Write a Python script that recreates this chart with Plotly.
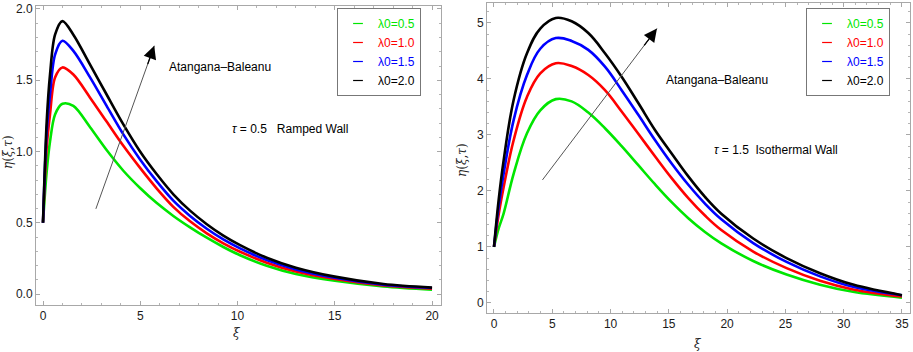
import plotly.graph_objects as go

# ---------------- data ----------------
labels = ["λ0=0.5", "λ0=1.0", "λ0=1.5", "λ0=2.0"]
colors = ["#00e600", "#ff0000", "#0000ff", "#000000"]

# Left panel: tau = 0.5, ramped wall
xi_left = [0, 0.19, 0.36, 0.62, 1.0, 1.56, 2.42, 3.27, 4.13, 4.99, 5.85, 6.7, 7.56, 8.42, 9.27, 10.13, 11.5, 13, 15, 17.5, 20]
eta_left_05 = [0.5, 0.86, 1.07, 1.26, 1.335, 1.32, 1.17, 1.01, 0.865, 0.744, 0.638, 0.548, 0.468, 0.395, 0.33, 0.272, 0.198, 0.14, 0.093, 0.053, 0.03]
eta_left_10 = [0.5, 1.03, 1.26, 1.52, 1.59, 1.54, 1.378, 1.21, 1.04, 0.885, 0.74, 0.612, 0.51, 0.426, 0.356, 0.297, 0.22, 0.158, 0.105, 0.06, 0.038]
eta_left_15 = [0.5, 1.14, 1.40, 1.68, 1.777, 1.706, 1.52, 1.32, 1.12, 0.944, 0.79, 0.655, 0.548, 0.458, 0.383, 0.32, 0.238, 0.173, 0.114, 0.065, 0.042]
eta_left_20 = [0.5, 1.21, 1.54, 1.82, 1.915, 1.82, 1.61, 1.40, 1.19, 1.00, 0.84, 0.70, 0.585, 0.49, 0.41, 0.343, 0.255, 0.185, 0.122, 0.07, 0.045]

# Right panel: tau = 1.5, isothermal wall
xi_right = [0, 0.4, 0.83, 1.69, 2.83, 3.97, 5.3, 6.66, 8.09, 9.52, 10.95, 12.38, 13.81, 15.24, 16.67, 18.1, 19.5, 22.24, 25.1, 27.97, 30.8, 35]
eta_right_05 = [1.0, 1.33, 1.60, 2.31, 3.03, 3.44, 3.64, 3.60, 3.40, 3.12, 2.80, 2.46, 2.12, 1.80, 1.514, 1.268, 1.064, 0.749, 0.506, 0.325, 0.198, 0.093]
eta_right_10 = [1.0, 1.58, 2.07, 2.91, 3.68, 4.10, 4.28, 4.23, 4.07, 3.80, 3.42, 3.02, 2.62, 2.23, 1.873, 1.561, 1.302, 0.918, 0.621, 0.397, 0.241, 0.115]
eta_right_15 = [1.0, 1.72, 2.31, 3.27, 4.07, 4.54, 4.73, 4.68, 4.52, 4.22, 3.80, 3.36, 2.91, 2.49, 2.11, 1.774, 1.494, 1.069, 0.732, 0.474, 0.287, 0.136]
eta_right_20 = [1.0, 1.84, 2.55, 3.63, 4.46, 4.90, 5.09, 5.03, 4.82, 4.46, 4.04, 3.57, 3.09, 2.67, 2.26, 1.895, 1.594, 1.15, 0.801, 0.531, 0.327, 0.138]

left_ticks_x = [0, 5, 10, 15, 20]
left_ticks_y = [0.0, 0.5, 1.0, 1.5, 2.0]
right_ticks_x = [0, 5, 10, 15, 20, 25, 30, 35]
right_ticks_y = [0, 1, 2, 3, 4, 5]

FONT = "Liberation Sans, Arial, sans-serif"
W, H = 913, 352

fig = go.Figure()

left_series = [eta_left_05, eta_left_10, eta_left_15, eta_left_20]
right_series = [eta_right_05, eta_right_10, eta_right_15, eta_right_20]

for i, (lab, col) in enumerate(zip(labels, colors)):
    fig.add_trace(go.Scatter(x=xi_left, y=left_series[i], mode="lines",
                             line=dict(color=col, width=2.6, shape="spline", smoothing=0.9),
                             showlegend=False, xaxis="x", yaxis="y", hoverinfo="skip"))
    fig.add_trace(go.Scatter(x=xi_right, y=right_series[i], mode="lines",
                             line=dict(color=col, width=2.6, shape="spline", smoothing=1.1),
                             showlegend=False, xaxis="x2", yaxis="y2", hoverinfo="skip"))

# legend-only entries (short dash samples, coloured labels)
for leg, xa, ya in (("legend", "x", "y"), ("legend2", "x2", "y2")):
    for lab, col in zip(labels, colors):
        fig.add_trace(go.Scatter(x=[None], y=[None], mode="markers",
                                 marker=dict(symbol="line-ew-open", size=7, color=col,
                                             line=dict(color=col, width=1.2)),
                                 name=f"<span style='color:{col}'>{lab}</span>",
                                 legend=leg, xaxis=xa, yaxis=ya))

def px_x(p):
    return p / W

def px_y(p):
    return 1 - p / H

axis_common = dict(showgrid=False, zeroline=False, showline=True, mirror="allticks",
                   linecolor="#a8a8a8", linewidth=1, ticks="inside", ticklen=4,
                   tickcolor="#a8a8a8", tickfont=dict(family=FONT, size=12, color="#1a1a1a"),
                   automargin=False)

fig.update_layout(
    width=W, height=H,
    margin=dict(l=0, r=0, t=0, b=0),
    paper_bgcolor="white", plot_bgcolor="white",
    font=dict(family=FONT, size=12, color="#000"),
    xaxis=dict(domain=[px_x(36), px_x(441)], range=[-0.36, 20.46],
               tickvals=left_ticks_x, ticktext=[str(v) for v in left_ticks_x],
               minor=dict(dtick=1, ticks="inside", ticklen=2, tickcolor="#b5b5b5"),
               anchor="y", **axis_common),
    yaxis=dict(domain=[px_y(305), px_y(6)], range=[-0.077, 2.021],
               tickvals=left_ticks_y, ticktext=[f"{v:.1f}" for v in left_ticks_y],
               minor=dict(dtick=0.1, ticks="inside", ticklen=2, tickcolor="#b5b5b5"),
               anchor="x", **axis_common),
    xaxis2=dict(domain=[px_x(487), px_x(910)], range=[-0.6, 35.69],
                tickvals=right_ticks_x, ticktext=[str(v) for v in right_ticks_x],
                minor=dict(dtick=1, ticks="inside", ticklen=2, tickcolor="#b5b5b5"),
                anchor="y2", **axis_common),
    yaxis2=dict(domain=[px_y(313), px_y(3)], range=[-0.18, 5.357],
                tickvals=right_ticks_y, ticktext=[str(v) for v in right_ticks_y],
                minor=dict(dtick=0.2, ticks="inside", ticklen=2, tickcolor="#b5b5b5"),
                anchor="x2", **axis_common),
    legend=dict(x=px_x(337), y=px_y(8), xanchor="left", yanchor="top",
                bgcolor="white", bordercolor="#777", borderwidth=1,
                font=dict(family=FONT, size=12), itemwidth=30, tracegroupgap=0),
    legend2=dict(x=px_x(806), y=px_y(8), xanchor="left", yanchor="top",
                 bgcolor="white", bordercolor="#777", borderwidth=1,
                 font=dict(family=FONT, size=12), itemwidth=30, tracegroupgap=0),
)

ann = []
# arrows (gray shaft + black head)
def arrow(xref, yref, x0, y0, x1, y1):
    ann.append(dict(x=x1, y=y1, ax=x0, ay=y0, xref=xref, yref=yref, axref=xref, ayref=yref,
                    showarrow=True, arrowhead=0, arrowwidth=1, arrowcolor="#555", text=""))
    fx = x0 + (x1 - x0) * 0.88
    fy = y0 + (y1 - y0) * 0.88
    ann.append(dict(x=x1, y=y1, ax=fx, ay=fy, xref=xref, yref=yref, axref=xref, ayref=yref,
                    showarrow=True, arrowhead=2, arrowsize=2.0, arrowwidth=1.3,
                    arrowcolor="#000", text=""))

arrow("x", "y", 2.69, 0.587, 5.72, 1.742)
arrow("x2", "y2", 4.06, 2.17, 13.98, 4.9)

txt = dict(showarrow=False, font=dict(family=FONT, size=12, color="#000"),
           xanchor="center", yanchor="middle")
ann.append(dict(x=9.1, y=1.59, xref="x", yref="y", text="Atangana–Baleanu", **txt))
ann.append(dict(x=12.7, y=1.16, xref="x", yref="y",
                text="<i>τ</i> = 0.5   Ramped Wall", **txt))
ann.append(dict(x=19.1, y=3.98, xref="x2", yref="y2", text="Atangana–Baleanu", **txt))
ann.append(dict(x=24.2, y=2.73, xref="x2", yref="y2",
                text="<i>τ</i> = 1.5  Isothermal Wall", **txt))

# axis titles
ttl = dict(showarrow=False, xref="paper", yref="paper", xanchor="center", yanchor="middle",
           font=dict(family="DejaVu Serif, serif", size=12, color="#222"))
ann.append(dict(x=px_x(8), y=px_y(152), text="<i>η</i>(<i>ξ</i>,<i>τ</i>)", textangle=-90, **ttl))
ann.append(dict(x=px_x(462), y=px_y(160), text="<i>η</i>(<i>ξ</i>,<i>τ</i>)", textangle=-90, **ttl))
ann.append(dict(x=px_x(237), y=px_y(333), text="<i>ξ</i>", **ttl))
ann.append(dict(x=px_x(698), y=px_y(344), text="<i>ξ</i>", **ttl))

fig.update_layout(annotations=ann)
fig.write_html("out.html", config={"displayModeBar": False},
               post_script="document.body.style.margin='0';document.body.style.overflow='hidden';")
